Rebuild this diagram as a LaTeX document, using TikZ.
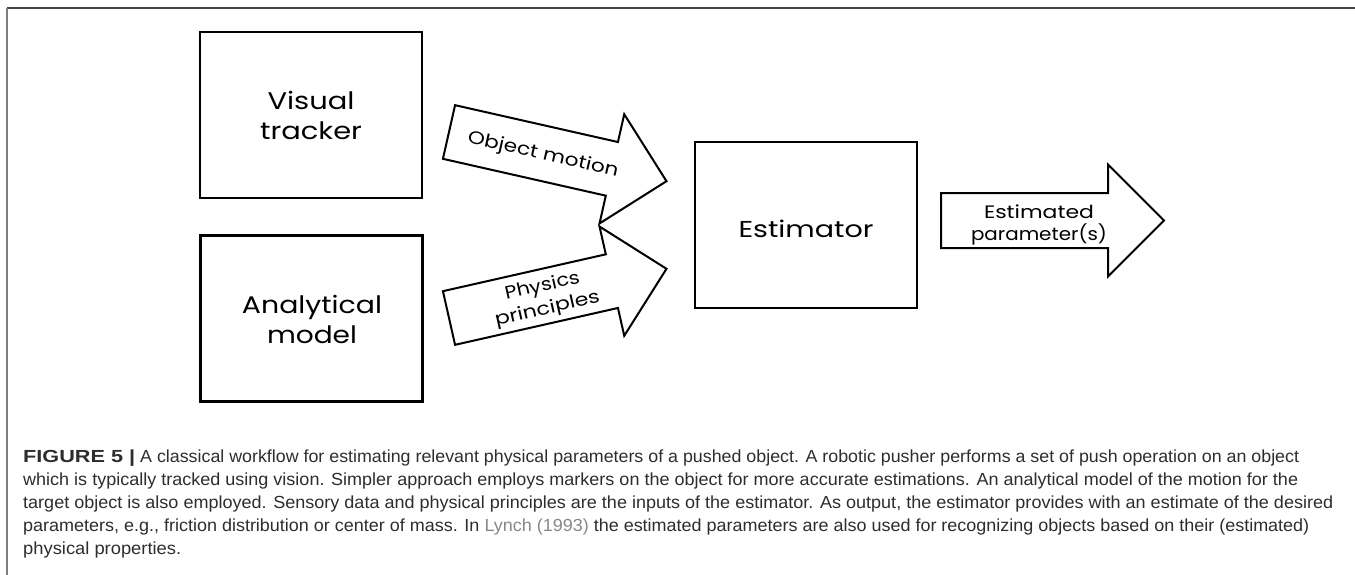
\documentclass[tikz,border=0pt]{standalone}
\usepackage{fontspec}
\usepackage{graphicx}
\setmainfont{Liberation Sans}
\newfontfamily\handfont{Poppins}
\newcommand{\hwtext}[2]{\resizebox{#1}{\height}{#2}}
\definecolor{captxt}{RGB}{45,45,45}
\definecolor{linkgray}{RGB}{135,135,135}
\definecolor{framedark}{RGB}{70,70,70}
\definecolor{framelight}{RGB}{125,125,125}
\begin{document}
\begin{tikzpicture}[x=1pt,y=-1pt,
  box/.style={draw=black, line width=2.6pt, minimum width=222pt, minimum height=166pt, inner sep=0pt},
  blockarrow/.style={draw=black, line width=2pt, line join=miter, fill=white},
  biglbl/.style={font=\handfont\fontsize{24}{30}\selectfont, inner sep=0pt, anchor=base},
  midlbl/.style={font=\handfont\fontsize{18}{23}\selectfont, inner sep=0pt, align=center},
  capline/.style={font=\fontsize{17.5}{21.5}\selectfont, text=captxt, inner sep=0pt, anchor=base west},
  pics/barrow/.style={code={
    \draw[blockarrow] (0,-27.5) -- (167,-27.5) -- (167,-56) -- (223,0)
      -- (167,56) -- (167,27.5) -- (0,27.5) -- cycle;}}
]
\useasboundingbox (0,0) rectangle (1355,575);

% frame
\coordinate (fTL) at (7,8);
\coordinate (fTR) at (1355,8);
\coordinate (fBL) at (7,575);
\draw[framedark, line width=1.6pt] (fTL) -- (fTR);
\draw[framelight, line width=1.6pt] (fTL) -- (fBL);

% boxes
\node[box] (vis) at (311,115) {};
\node[box] (ana) at (311.5,318.5) {};
\node[box] (est) at (806,225) {};

\node[biglbl] (vis1) at (311,110) {\hwtext{87pt}{Visual}};
\node[biglbl] (vis2) at (311,140) {\hwtext{102pt}{tracker}};
\node[biglbl] (ana1) at (312,313) {\hwtext{140pt}{Analytical}};
\node[biglbl] (ana2) at (312,343) {\hwtext{90pt}{model}};
\node[biglbl, font=\handfont\fontsize{23}{28}\selectfont] (est1) at (806,237) {\hwtext{135pt}{Estimator}};

% block arrows
\pic (objarrow) [rotate=-12.75] at (449,132) {barrow};
\pic (phyarrow) [rotate=12.75] at (449,318) {barrow};
\pic (outarrow) at (941,220.5) {barrow};

\node[midlbl, rotate=-12.75] (objtxt) at (543,155) {\hwtext{154pt}{Object motion}};
\node[midlbl, rotate=12.75] (phytxt) at (545,298) {\hwtext{76pt}{Physics}\\\hwtext{107pt}{principles}};
\node[midlbl, anchor=base] (out1) at (1039,218) {\hwtext{110pt}{Estimated}};
\node[midlbl, anchor=base] (out2) at (1039,240) {\hwtext{136pt}{parameter(s)}};

% caption
\node[capline] (cap1) at (23,462) {\hwtext{1276pt}{\hwtext{110pt}{\textbf{FIGURE 5 |}} A classical workflow for estimating relevant physical parameters of a pushed object. A robotic pusher performs a set of push operation on an object}};
\node[capline] (cap2) at (23,485) {\hwtext{1275pt}{which is typically tracked using vision. Simpler approach employs markers on the object for more accurate estimations. An analytical model of the motion for the}};
\node[capline] (cap3) at (23,508) {\hwtext{1310pt}{target object is also employed. Sensory data and physical principles are the inputs of the estimator. As output, the estimator provides with an estimate of the desired}};
\node[capline] (cap4) at (23,531) {\hwtext{1286pt}{parameters, e.g., friction distribution or center of mass. In \textcolor{linkgray}{Lynch (1993)} the estimated parameters are also used for recognizing objects based on their (estimated)}};
\node[capline] (cap5) at (23,554) {\hwtext{158pt}{physical properties.}};
\end{tikzpicture}
\end{document}
